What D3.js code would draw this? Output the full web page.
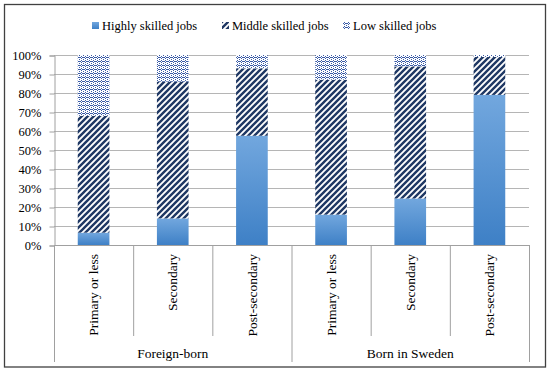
<!DOCTYPE html>
<html>
<head>
<meta charset="utf-8">
<script src="https://cdn.jsdelivr.net/npm/d3@7"></script>
<style>
  body { margin: 0; background: #fff; }
  #chart { width: 550px; height: 375px; }
</style>
</head>
<body>
<div id="chart"></div>
<script>
// data
const groups = ["Foreign-born", "Born in Sweden"];
const levels = ["Primary or less", "Secondary", "Post-secondary"];
const seriesNames = ["Highly skilled jobs", "Middle skilled jobs", "Low skilled jobs"];
const highly = [6.5, 14, 57.5, 16, 24.5, 79];
const middle = [61.5, 72, 35.5, 71, 69.5, 20];
const low = [32, 14, 7, 13, 6, 1];
const yTicks = [0, 10, 20, 30, 40, 50, 60, 70, 80, 90, 100];

const width = 550, height = 375;
const margin = {top: 55, left: 54, right: 21, bottom: 130};
const serif = "'Liberation Serif', monospace";

const svg = d3.select("#chart").append("svg")
    .attr("width", width)
    .attr("height", height);

// patterns + gradient
const defs = svg.append("defs");
const grad = defs.append("linearGradient")
    .attr("id", "blueGrad")
    .attr("x1", 0).attr("y1", 0).attr("x2", 0).attr("y2", 1);
grad.append("stop").attr("offset", "0%").attr("stop-color", "#72a7de");
grad.append("stop").attr("offset", "100%").attr("stop-color", "#3e80c6");

const stripe = defs.append("pattern")
    .attr("id", "stripes")
    .attr("patternUnits", "userSpaceOnUse")
    .attr("width", 6).attr("height", 6);
stripe.append("rect").attr("width", 6).attr("height", 6).attr("fill", "#fff");
stripe.append("path")
    .attr("d", "M-1,7 L7,-1 M-4,4 L4,-4 M2,10 L10,2")
    .attr("stroke", "#1f3864")
    .attr("stroke-width", 2.4);

const dots = defs.append("pattern")
    .attr("id", "dots")
    .attr("patternUnits", "userSpaceOnUse")
    .attr("width", 4).attr("height", 4);
dots.append("rect").attr("width", 4).attr("height", 4).attr("fill", "#fff");
[[1,0],[0,1],[2,1],[1,2],[3,3],[3,1]].forEach(function(p) {
    dots.append("rect").attr("x", p[0]).attr("y", p[1])
        .attr("width", 1).attr("height", 1).attr("fill", "#3a5ba6");
});
const fills = ["url(#blueGrad)", "url(#stripes)", "url(#dots)"];

// outer frame
svg.append("rect")
    .attr("x", 4.5).attr("y", 4.5)
    .attr("width", 541).attr("height", 362.5)
    .attr("fill", "none")
    .attr("stroke", "#404040")
    .attr("stroke-width", 1.3);

// scales
const cats = d3.range(6);
const xScale = d3.scaleBand()
    .domain(cats)
    .range([margin.left, width - margin.right])
    .paddingInner(0.6)
    .paddingOuter(0.3);
const step = xScale.step();
const yScale = d3.scaleLinear()
    .domain([0, 100])
    .range([height - margin.bottom, margin.top]);
const y0 = yScale(0);

// gridlines
svg.append("g")
    .selectAll("line")
    .data(yTicks.slice(1))
    .enter().append("line")
        .attr("x1", margin.left).attr("x2", width - margin.right)
        .attr("y1", d => yScale(d) + 0.5).attr("y2", d => yScale(d) + 0.5)
        .attr("stroke", "#b5b5b5");

// y axis
const yAxis = svg.append("g")
    .attr("transform", `translate(${margin.left + 0.5},0.5)`)
    .call(d3.axisLeft(yScale).tickValues(yTicks).tickFormat(d => d + "%").tickSize(5).tickPadding(8));
yAxis.select(".domain").attr("stroke", "#a0a0a0");
yAxis.selectAll(".tick line").attr("stroke", "#a0a0a0");
yAxis.selectAll("text")
    .attr("fill", "#000")
    .style("font-family", serif)
    .style("font-size", "12.5px");

// stacked bars
const rows = cats.map(i => ({i: i, v: [highly[i], middle[i], low[i]]}));
const stack = d3.stack().keys([0, 1, 2]).value((d, k) => d.v[k]);
const layers = stack(rows);
svg.append("g")
    .selectAll("g")
    .data(layers)
    .enter().append("g")
        .attr("fill", (d, k) => fills[k])
    .selectAll("rect")
    .data(d => d)
    .enter().append("rect")
        .attr("x", d => xScale(d.data.i))
        .attr("y", d => yScale(Math.min(d[1], 100)))
        .attr("width", xScale.bandwidth())
        .attr("height", d => yScale(d[0]) - yScale(Math.min(d[1], 100)));

// x axis baseline
svg.append("line")
    .attr("x1", margin.left).attr("x2", width - margin.right)
    .attr("y1", y0 + 0.5).attr("y2", y0 + 0.5)
    .attr("stroke", "#a0a0a0");

// category separators
const seps = d3.range(7);
svg.append("g")
    .selectAll("line")
    .data(seps)
    .enter().append("line")
        .attr("x1", d => margin.left + d * step + 0.5)
        .attr("x2", d => margin.left + d * step + 0.5)
        .attr("y1", y0)
        .attr("y2", d => (d % 3 === 0) ? y0 + 117 : y0 + 91)
        .attr("stroke", "#a0a0a0");

// category labels
svg.append("g")
    .selectAll("text")
    .data(cats)
    .enter().append("text")
        .attr("transform", d => `translate(${xScale(d) + xScale.bandwidth() / 2},${y0 + 9}) rotate(-90)`)
        .attr("text-anchor", "end")
        .attr("dy", "0.35em")
        .style("font-family", serif)
        .style("font-size", "13.5px")
        .text(d => levels[d % 3]);

// group labels
svg.append("g")
    .selectAll("text")
    .data(groups)
    .enter().append("text")
        .attr("x", (d, g) => margin.left + (g * 3 + 1.5) * step)
        .attr("y", y0 + 113)
        .attr("text-anchor", "middle")
        .style("font-family", serif)
        .style("font-size", "13.5px")
        .text(d => d);

// legend
const legendX = [92, 222, 343];
const legend = svg.append("g")
    .selectAll("g")
    .data(seriesNames)
    .enter().append("g")
        .attr("transform", (d, k) => `translate(${legendX[k]},22)`);
legend.append("rect")
    .attr("width", 7).attr("height", 7)
    .attr("fill", (d, k) => fills[k]);
legend.append("text")
    .attr("x", 10)
    .attr("y", 8)
    .style("font-family", serif)
    .style("font-size", "12.5px")
    .text(d => d);
</script>
</body>
</html>
